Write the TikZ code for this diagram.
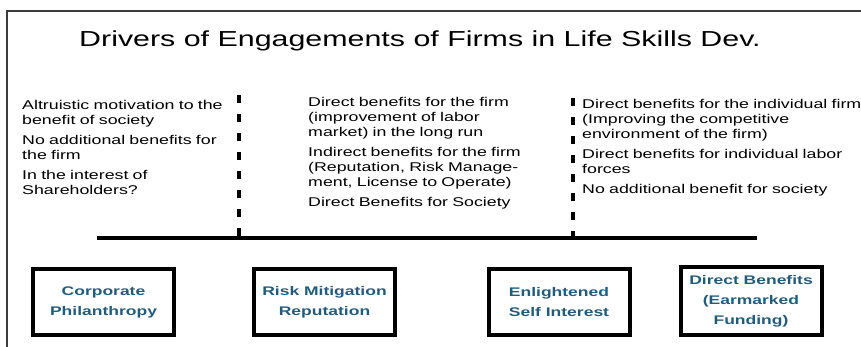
\documentclass[tikz,border=0pt]{standalone}
\usepackage{fontspec}
\newfontfamily\widesans[FakeStretch=1.4]{Liberation Sans}
\definecolor{boxtext}{RGB}{35,92,122}
\definecolor{framegray}{RGB}{60,60,60}
\tikzset{
  bodytext/.style={anchor=base west, inner sep=0pt, text width=290pt, align=left,
    font={\widesans\fontsize{12.7}{15}\selectfont}},
  drivebox/.style={draw=black, line width=4pt, minimum width=141pt, minimum height=66pt,
    inner sep=0pt, align=center, text=boxtext,
    font={\widesans\bfseries\fontsize{12.5}{20}\selectfont}},
  divider/.style={line width=3.5pt, dash pattern=on 8pt off 11pt},
  baseline rule/.style={line width=3.5pt}
}
\begin{document}
\begin{tikzpicture}[x=1pt,y=-1pt]
\useasboundingbox (0,0) rectangle (861,347);
% frame
\draw[framegray, line width=1.6pt] (7,347) -- (7,11) -- (861,11);
% title
\node[anchor=base, inner sep=0pt, font={\widesans\fontsize{21.7}{25}\selectfont}] (title) at (420,47)
  {Drivers of Engagements of Firms in Life Skills Dev.};
% text columns
\node[bodytext] (left) at (22,110) {Altruistic motivation to the\\benefit of society\\[5pt]
  No additional benefits for\\the firm\\[5pt]In the interest of\\Shareholders?};
\node[bodytext] (mid) at (308,107) {Direct benefits for the firm\\(improvement of labor\\market) in the long run\\[5pt]
  Indirect benefits for the firm\\(Reputation, Risk Manage-\\ment, License to Operate)\\[5pt]Direct Benefits for Society};
\node[bodytext] (right) at (582,109) {Direct benefits for the individual firm\\(Improving the competitive\\environment of the firm)\\[5pt]
  Direct benefits for individual labor\\forces\\[5pt]No additional benefit for society};
% dividers and base line
\coordinate (d1top) at (239,95);
\coordinate (d1bot) at (239,237);
\coordinate (d2top) at (573,98);
\coordinate (d2bot) at (573,237);
\coordinate (hl) at (97,238);
\coordinate (hr) at (757,238);
\draw[divider] (d1top) -- (d1bot);
\draw[divider] (d2top) -- (d2bot);
\draw[baseline rule] (hl) -- (hr);
% boxes
\node[drivebox] (cp) at (103.5,302) {Corporate\\Philanthropy};
\node[drivebox] (rm) at (324.5,302) {Risk Mitigation\\Reputation};
\node[drivebox] (es) at (559,302) {Enlightened\\Self Interest};
\node[drivebox, minimum height=68pt] (db) at (751,301) {Direct Benefits\\(Earmarked\\Funding)};
\end{tikzpicture}
\end{document}
